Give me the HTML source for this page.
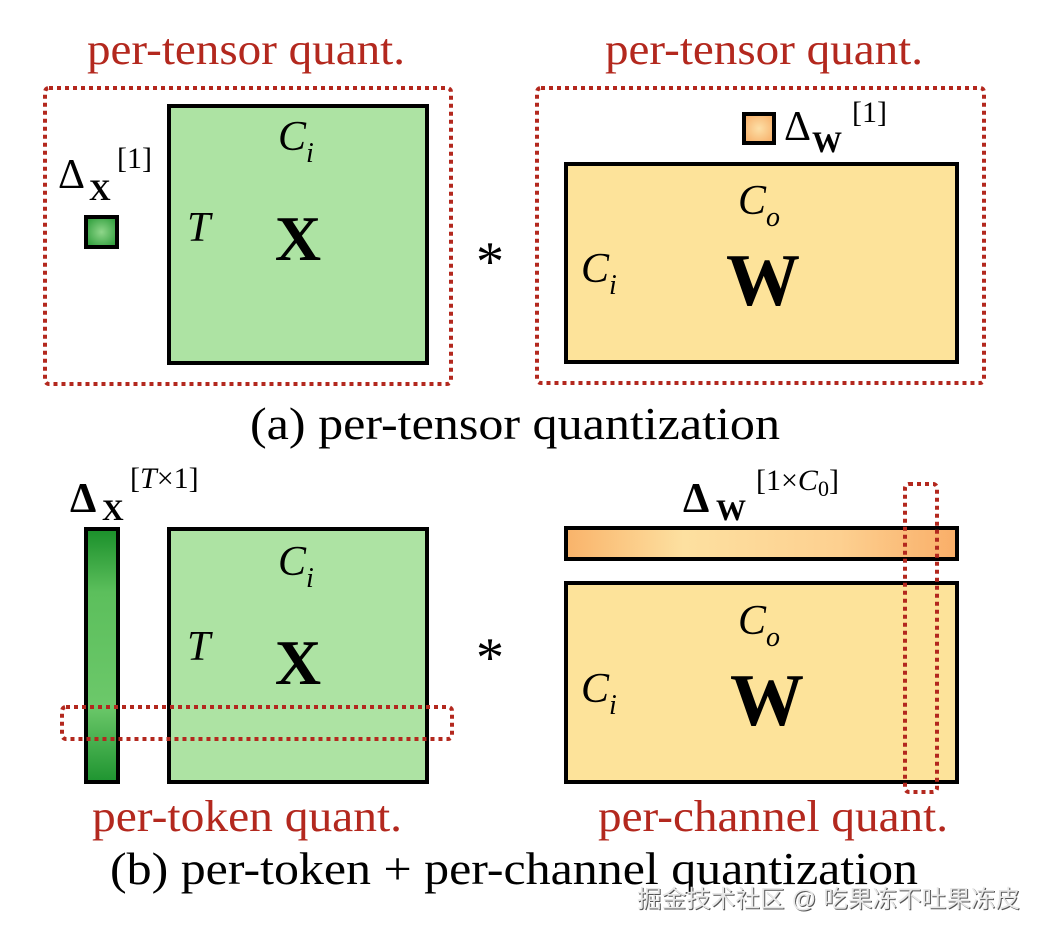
<!DOCTYPE html>
<html><head><meta charset="utf-8"><style>
html,body{margin:0;padding:0;background:#fff;}
svg{display:block;}
</style></head><body>
<svg width="1046" height="938" viewBox="0 0 1046 938" xmlns="http://www.w3.org/2000/svg" font-family="Liberation Serif, serif">
<defs>
<linearGradient id="gv" x1="0" y1="0" x2="0" y2="1">
<stop offset="0" stop-color="#1a8f2a"/><stop offset="0.25" stop-color="#5cbf5c"/><stop offset="0.7" stop-color="#6cc86a"/><stop offset="1" stop-color="#1e9430"/>
</linearGradient>
<radialGradient id="gs" cx="0.5" cy="0.5" r="0.6">
<stop offset="0" stop-color="#8fd68a"/><stop offset="1" stop-color="#2f9e3c"/>
</radialGradient>
<linearGradient id="oh" x1="0" y1="0" x2="1" y2="0">
<stop offset="0" stop-color="#f9b36a"/><stop offset="0.3" stop-color="#fde0a0"/><stop offset="0.7" stop-color="#fdd090"/><stop offset="1" stop-color="#f9ae68"/>
</linearGradient>
<radialGradient id="os" cx="0.5" cy="0.5" r="0.6">
<stop offset="0" stop-color="#fde0a8"/><stop offset="1" stop-color="#f7b06a"/>
</radialGradient>
</defs>
<g fill="none" stroke="#b3281e" stroke-width="4" stroke-dasharray="4 4">
<rect x="45" y="88" width="406" height="296" rx="4"/>
<rect x="537" y="88" width="447" height="295" rx="4"/>
</g>
<g stroke="#000" stroke-width="4">
<rect x="169" y="106" width="258" height="257" fill="#ade3a3"/>
<rect x="86" y="217" width="31" height="30" fill="url(#gs)"/>
<rect x="566" y="164" width="391" height="198" fill="#fde39a"/>
<rect x="744" y="114" width="30" height="29" fill="url(#os)"/>
<rect x="169" y="529" width="258" height="253" fill="#ade3a3"/>
<rect x="86" y="529" width="32" height="253" fill="url(#gv)"/>
<rect x="566" y="528" width="391" height="31" fill="url(#oh)"/>
<rect x="566" y="583" width="391" height="199" fill="#fde39a"/>
</g>
<g fill="none" stroke="#b3281e" stroke-width="4" stroke-dasharray="4 4">
<rect x="62" y="707" width="390" height="32" rx="4"/>
<rect x="905" y="484" width="32" height="308" rx="4"/>
</g>
<g fill="#b3281e" font-size="44" lengthAdjust="spacingAndGlyphs">
<text x="87" y="64" textLength="318" lengthAdjust="spacingAndGlyphs">per-tensor quant.</text>
<text x="605" y="64" textLength="318" lengthAdjust="spacingAndGlyphs">per-tensor quant.</text>
<text x="92" y="831" textLength="310" lengthAdjust="spacingAndGlyphs">per-token quant.</text>
<text x="598" y="831" textLength="350" lengthAdjust="spacingAndGlyphs">per-channel quant.</text>
</g>
<g fill="#000" font-size="46">
<text x="250" y="439" textLength="530" lengthAdjust="spacingAndGlyphs">(a) per-tensor quantization</text>
<text x="110" y="884" textLength="808" lengthAdjust="spacingAndGlyphs">(b) per-token + per-channel quantization</text>
</g>
<g fill="#000">
<text x="490" y="280" font-size="56" text-anchor="middle">*</text>
<text x="490" y="676" font-size="56" text-anchor="middle">*</text>
<text x="298" y="260" font-size="64" font-weight="bold" text-anchor="middle">X</text>
<text x="298" y="684" font-size="64" font-weight="bold" text-anchor="middle">X</text>
<text x="763" y="305" font-size="74" font-weight="bold" text-anchor="middle">W</text>
<text x="767" y="725" font-size="74" font-weight="bold" text-anchor="middle">W</text>
<g font-style="italic" font-size="42">
<text x="278" y="150">C</text><text x="306" y="162" font-size="28">i</text>
<text x="187" y="241">T</text>
<text x="278" y="575">C</text><text x="306" y="587" font-size="28">i</text>
<text x="187" y="660">T</text>
<text x="738" y="214">C</text><text x="766" y="226" font-size="28">o</text>
<text x="581" y="282">C</text><text x="609" y="294" font-size="28">i</text>
<text x="738" y="634">C</text><text x="766" y="646" font-size="28">o</text>
<text x="581" y="702">C</text><text x="609" y="714" font-size="28">i</text>
</g>
<text x="58" y="188" font-size="42">Δ</text>
<text x="89" y="200" font-size="30" font-weight="bold">X</text>
<text x="117" y="168" font-size="30">[1]</text>
<text x="784" y="140" font-size="42">Δ</text>
<text x="812" y="152" font-size="30" font-weight="bold">W</text>
<text x="852" y="122" font-size="30">[1]</text>
<text x="70" y="512" font-size="42" font-weight="bold">Δ</text>
<text x="102" y="520" font-size="30" font-weight="bold">X</text>
<text x="130" y="488" font-size="30">[<tspan font-style="italic">T</tspan>×1]</text>
<text x="683" y="512" font-size="42" font-weight="bold">Δ</text>
<text x="716" y="520" font-size="30" font-weight="bold">W</text>
<text x="756" y="490" font-size="30">[1×<tspan font-style="italic">C</tspan><tspan font-size="22" dy="6">0</tspan><tspan dy="-6">]</tspan></text>
</g>
<text x="638" y="908" font-size="24" textLength="383" lengthAdjust="spacingAndGlyphs" font-family="Liberation Sans, Noto Sans CJK SC, sans-serif" fill="#555">掘金技术社区 @ 吃果冻不吐果冻皮</text>
<text x="637" y="907" font-size="24" textLength="383" lengthAdjust="spacingAndGlyphs" font-family="Liberation Sans, Noto Sans CJK SC, sans-serif" fill="#e8e8e8">掘金技术社区 @ 吃果冻不吐果冻皮</text>
</svg>
</body></html>
